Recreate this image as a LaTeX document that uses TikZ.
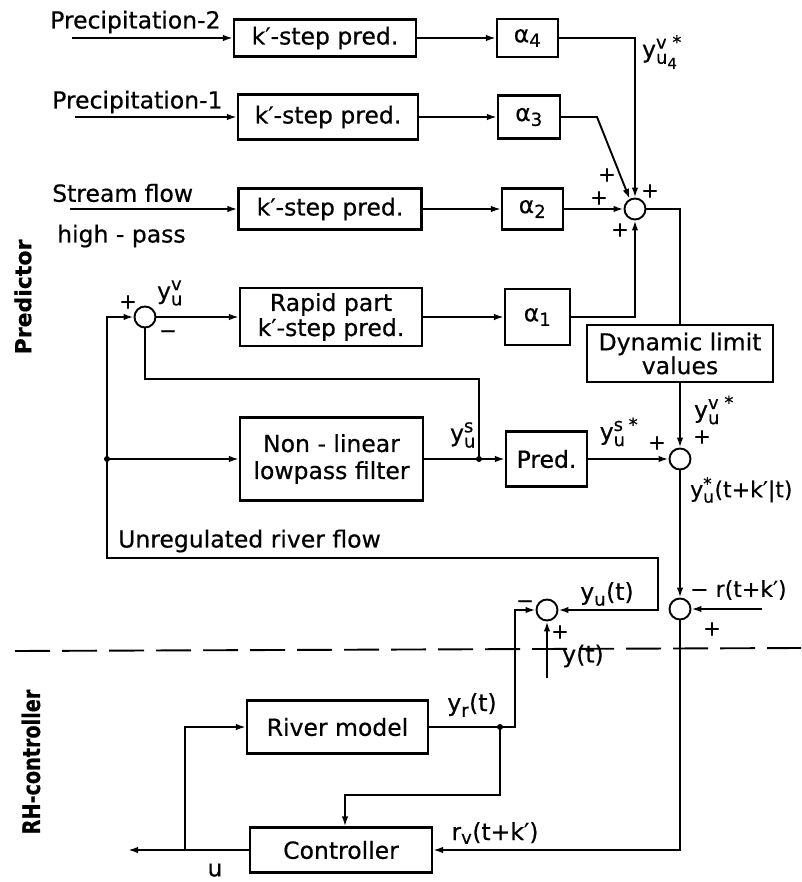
\documentclass[tikz,border=0pt]{standalone}
\usepackage{fontspec}
\setmainfont{DejaVu Sans}[FakeBold=0.5]
\usepackage{amsmath}
\usepackage{graphicx}
\usetikzlibrary{arrows.meta}
\DeclareMathSizes{23.5}{23.5}{18}{15}
\DeclareMathSizes{22}{22}{17}{14}
\newcommand\tx[1]{\text{#1}}
\begin{document}
\begin{tikzpicture}[x=1pt,y=-1pt,
  every node/.style={font=\fontsize{23.5}{24}\selectfont},
  blk/.style={draw,line width=2.1pt,inner sep=0pt,align=center},
  sumc/.style={draw,circle,line width=1.9pt,minimum size=21pt,inner sep=0pt},
  lbl/.style={inner sep=0pt},
  sgn/.style={inner sep=0pt,font=\fontsize{21}{21}\selectfont},
  arr/.style={line width=1.9pt,-{Latex[length=10pt,width=6.5pt]}},
  ln/.style={line width=1.9pt},
  dot/.style={circle,fill,inner sep=0pt,minimum size=6pt}
]
\useasboundingbox (0,0) rectangle (801,882);

% ---------- blocks ----------
\node[blk,minimum width=182pt,minimum height=37pt] (b1) at (325,38) {k′-step pred.};
\node[blk,minimum width=180pt,minimum height=45pt] (b2) at (328,117) {k′-step pred.};
\node[blk,minimum width=183pt,minimum height=41pt] (b3) at (330,209) {k′-step pred.};
\node[blk,minimum width=61pt,minimum height=38pt] (a4) at (527.5,38) {$\tx{α}_{\tx{4}}$};
\node[blk,minimum width=62pt,minimum height=43pt] (a3) at (529,117) {$\tx{α}_{\tx{3}}$};
\node[blk,minimum width=61pt,minimum height=41pt] (a2) at (532.5,209) {$\tx{α}_{\tx{2}}$};
\node[blk,minimum width=182pt,minimum height=58pt,font=\fontsize{23.5}{25}\selectfont] (rapid) at (331,317) {Rapid part\\k′-step pred.};
\node[blk,minimum width=65pt,minimum height=56pt] (a1) at (537.5,317) {$\tx{α}_{\tx{1}}$};
\node[blk,minimum width=186pt,minimum height=57pt,font=\fontsize{23.5}{21}\selectfont] (dlv) at (680,353.5) {Dynamic limit\\values};
\node[blk,minimum width=183pt,minimum height=83pt,font=\fontsize{23.5}{27}\selectfont] (nl) at (331.5,459) {Non - linear\\lowpass filter};
\node[blk,minimum width=81pt,minimum height=55pt] (pred) at (546.5,459) {Pred.};
\node[blk,minimum width=181pt,minimum height=53pt] (rm) at (337.5,727) {River model};
\node[blk,minimum width=182pt,minimum height=45pt] (ctrl) at (341,850) {Controller};

% ---------- summing junctions ----------
\node[sumc] (sum1) at (635,209) {};
\node[sumc] (sub) at (145,317) {};
\node[sumc] (sum2) at (680,459) {};
\node[sumc] (sum3) at (680,609) {};
\node[sumc] (sum4) at (547,610) {};

% ---------- coordinates ----------
\coordinate (in2) at (72,38);
\coordinate (in1) at (75,117);
\coordinate (in0) at (70,209);
\coordinate (a3k) at (597,117);
\coordinate (j0) at (107,459);
\coordinate (j1) at (479,459);
\coordinate (c1) at (658,558);
\coordinate (c2) at (479,379);
\coordinate (c3) at (515,610);
\coordinate (j2) at (500,727);
\coordinate (c4) at (345,795);
\coordinate (j3) at (185,850);
\coordinate (uout) at (128,850);
\coordinate (yin) at (547,678);
\coordinate (rin) at (762,609);
\coordinate (dl) at (15,651);
\coordinate (dr) at (801,648);

% ---------- connectors ----------
\draw[arr] (in2) -- (b1);
\draw[arr] (in1) -- (b2);
\draw[arr] (in0) -- (b3);
\draw[arr] (b1) -- (a4);
\draw[arr] (b2) -- (a3);
\draw[arr] (b3) -- (a2);
\draw[arr] (a4.east) -| (sum1.north);
\draw[arr] (a3.east) -- (a3k) -- (sum1.118);
\draw[arr] (a2) -- (sum1.west);
\draw[arr] (a1.east) -| (sum1.south);
\draw[ln] (sum1.east) -| (dlv.north);
\draw[arr] (dlv.south) -- (sum2.north);
\draw[arr] (sum2.south) -- (sum3.north);
\draw[arr] (sub) -- (rapid);
\draw[arr] (rapid) -- (a1);
\draw[arr] (j0) |- (sub.west);
\draw[arr] (j0) -- (nl.west);
\draw[arr] (j0) |- (c1) |- (sum4.east);
\draw[ln] (sub.south) |- (c2) -- (j1);
\draw[arr] (nl.east) -- (pred.west);
\draw[arr] (pred.east) -- (sum2.west);
\draw[arr] (rin) -- (sum3.east);
\draw[arr] (sum3.south) |- (ctrl.east);
\draw[arr] (yin) -- (sum4.south);
\draw[arr] (rm.east) -| (c3) -- (sum4.west);
\draw[arr] (j2) |- (c4) -- (c4 |- ctrl.north);
\draw[arr] (ctrl.west) -- (uout);
\draw[arr] (j3) |- (rm.west);
\draw[ln,dash pattern=on 35pt off 12pt] (dl) -- (dr);
\node[dot] at (j0) {};
\node[dot] at (j1) {};
\node[dot] at (j2) {};

% ---------- labels ----------
\node[lbl,anchor=west] (Lp2) at (50,22) {Precipitation-2};
\node[lbl,anchor=west] (Lp1) at (52,102) {Precipitation-1};
\node[lbl,anchor=west] (Lsf) at (52,193) {Stream flow};
\node[lbl,anchor=west] (Lhp) at (57,236) {high - pass};
\node[lbl] (Lyu4) at (662,52) {$\tx{y}^{\tx{v *}}_{\tx{u}_{\tx{4}}}$};
\node[sgn] at (607,175) {+};
\node[sgn] at (599,198) {+};
\node[sgn] at (650,191) {+};
\node[sgn] at (620,230) {+};
\node[sgn] at (128,302) {+};
\node[lbl] (Lyuv) at (170,293) {$\tx{y}^{\tx{v}}_{\tx{u}}$};
\node[sgn] at (168,334) {−};
\node[lbl] (Lyus) at (463,435) {$\tx{y}^{\tx{s}}_{\tx{u}}$};
\node[lbl] (Lyuss) at (619,432) {$\tx{y}^{\tx{s *}}_{\tx{u}}$};
\node[sgn] at (657,443) {+};
\node[lbl] (Lyuvs) at (714,410) {$\tx{y}^{\tx{v *}}_{\tx{u}}$};
\node[sgn] at (702,437) {+};
\node[lbl,anchor=west,font=\fontsize{22}{22}\selectfont] (Lyst) at (690,490) {$\tx{y}^{\tx{*}}_{\tx{u}}$(t+k′|t)};
\node[lbl,anchor=west] (Lurf) at (118,541) {Unregulated river flow};
\node[lbl] (Lyut) at (607,594) {$\tx{y}_{\tx{u}}$(t)};
\node[sgn] at (525,604) {−};
\node[sgn] at (560,632) {+};
\node[lbl] (Lyt) at (583,656) {y(t)};
\node[lbl,anchor=west,font=\fontsize{22}{22}\selectfont] (Lr) at (690,590) {− r(t+k′)};
\node[sgn] at (712,629) {+};
\node[lbl] (Lyr) at (472,705) {$\tx{y}_{\tx{r}}$(t)};
\node[lbl] (Lrv) at (495,833) {$\tx{r}_{\tx{v}}$(t+k′)};
\node[lbl] (Lu) at (215,870) {u};
\node[lbl,rotate=90,font=\fontsize{22}{22}\selectfont\bfseries] (Lpr) at (23,297) {Predictor};
\node[lbl,rotate=90,font=\fontsize{24}{24}\selectfont\bfseries] (Lrh) at (31,762) {\scalebox{0.8}[1]{RH-controller}};
\end{tikzpicture}
\end{document}
